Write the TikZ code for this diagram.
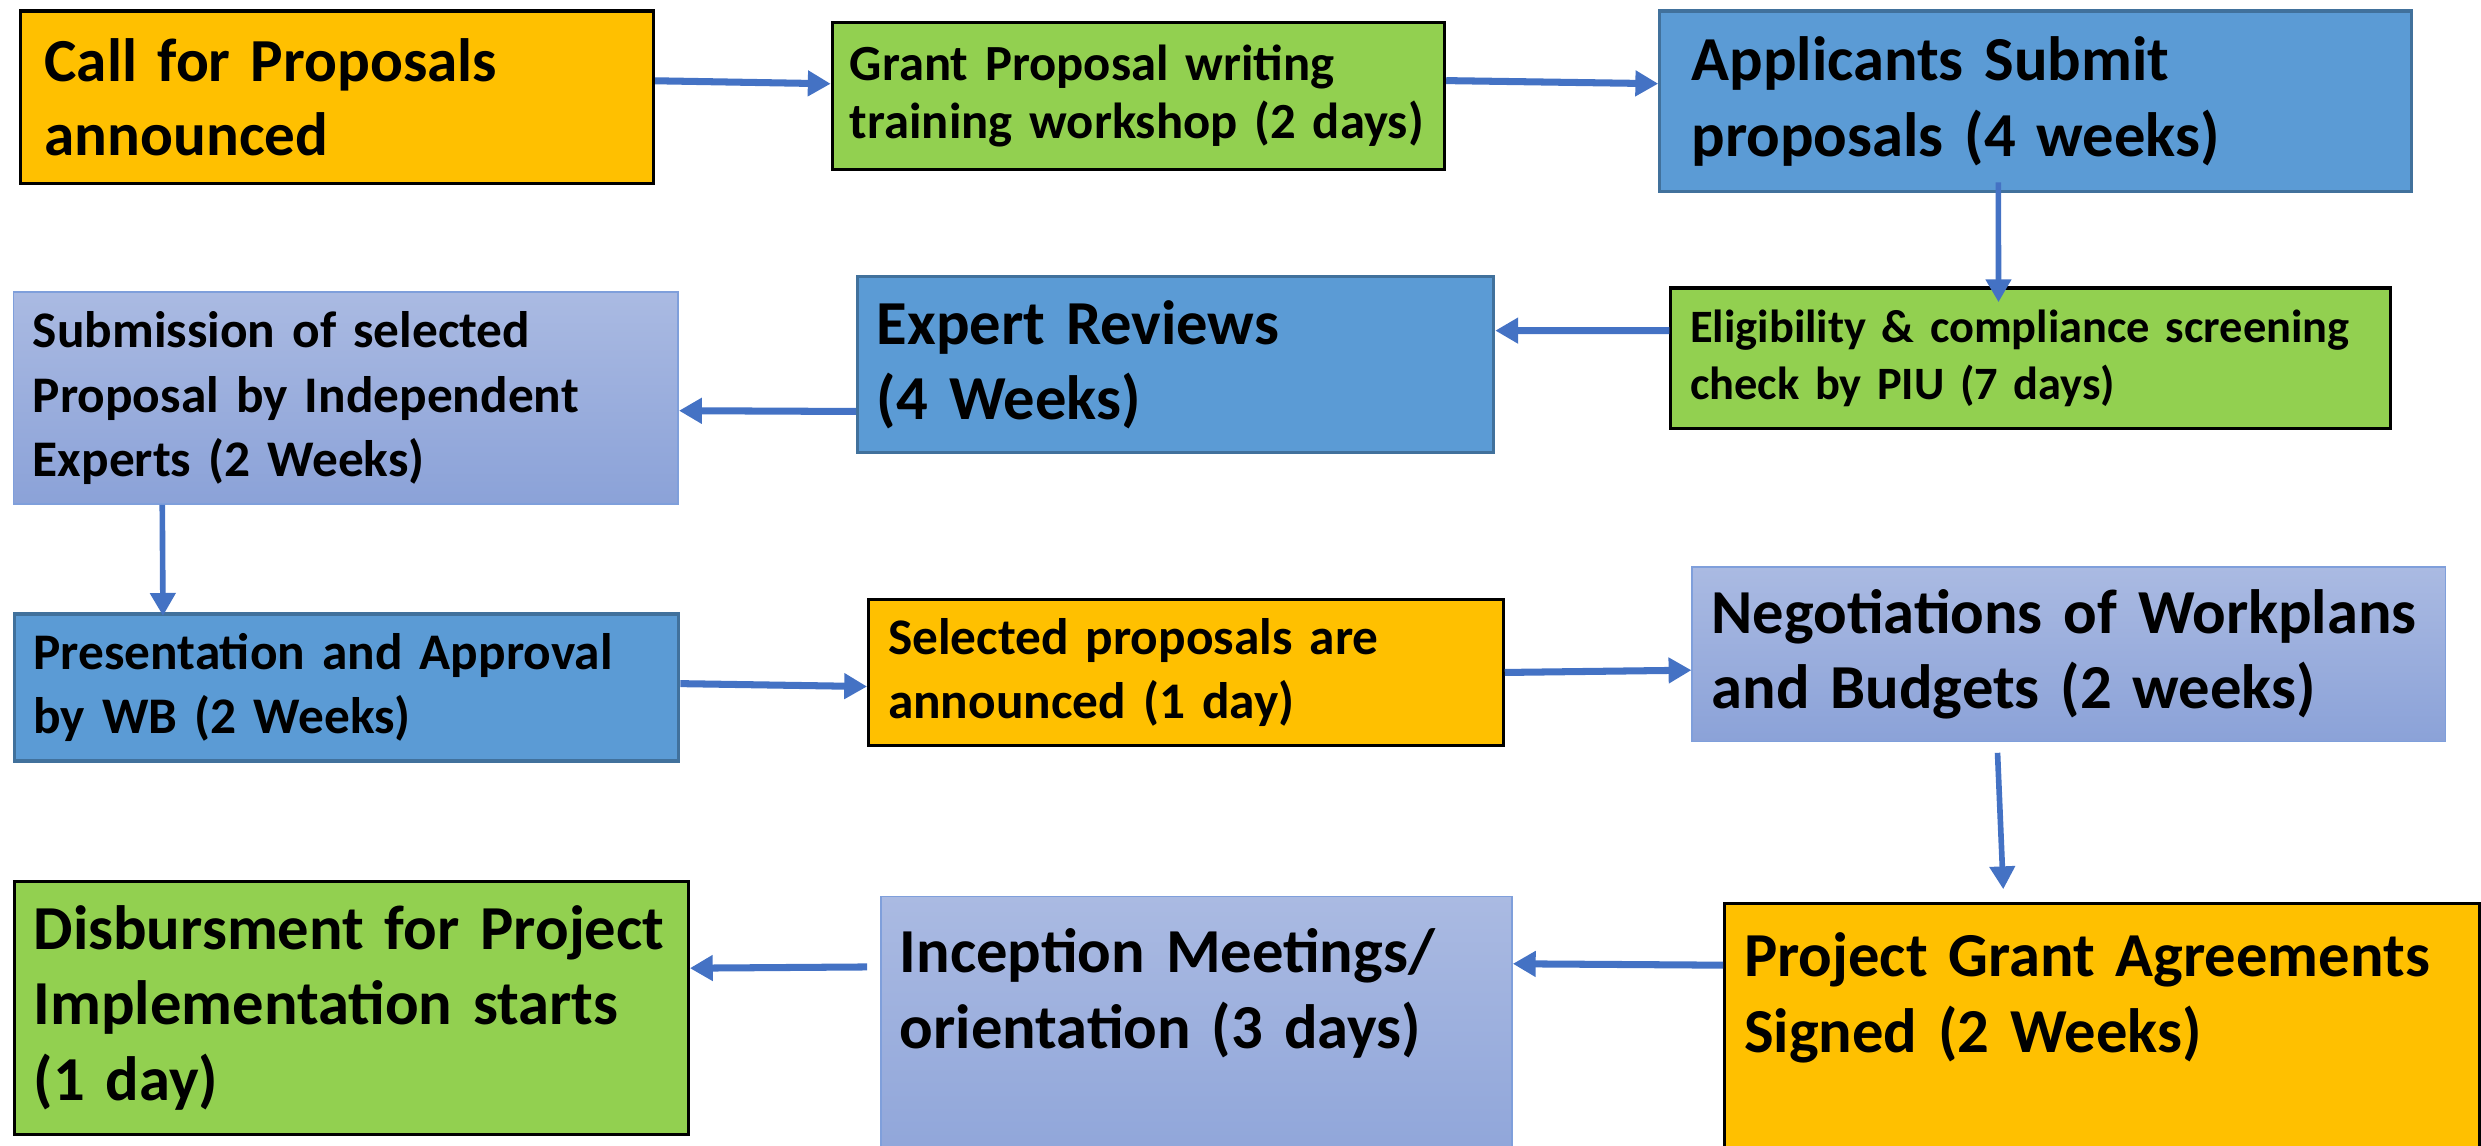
\documentclass[tikz,border=0pt]{standalone}
\usepackage{fontspec}
\setmainfont{Carlito}
\usepackage{tikz}
\usetikzlibrary{arrows.meta, positioning, calc}

\definecolor{calorange}{HTML}{FFC000}
\definecolor{stepgreen}{HTML}{92D050}
\definecolor{stepblue}{HTML}{5B9BD5}
\definecolor{stepblueline}{HTML}{41719C}
\definecolor{lavtop}{HTML}{AABAE2}
\definecolor{lavbot}{HTML}{8BA2D8}
\definecolor{lavline}{HTML}{7F9FDB}
\definecolor{flowblue}{HTML}{4472C4}

\begin{document}
\begin{tikzpicture}[x=0.45pt, y=-0.45pt, >={Triangle[length=6.5pt,width=7pt]},
        every node/.style={rectangle,anchor=north west,align=left,inner xsep=5.5pt,inner ysep=4pt,font=\bfseries}]
        % box looks and text sizes
        \tikzset{orangebox/.style={fill=calorange,draw=black,line width=0.9pt},
                 greenbox/.style={fill=stepgreen,draw=black,line width=0.9pt},
                 bluebox/.style={fill=stepblue,draw=stepblueline,line width=0.9pt},
                 lavbox/.style={top color=lavtop,bottom color=lavbot,draw=lavline,line width=0.5pt},
                 calltext/.style={font=\bfseries\fontsize{17.4}{21}\selectfont},
                 bigtext/.style={font=\bfseries\fontsize{17.8}{21.5}\selectfont},
                 midtext/.style={font=\bfseries\fontsize{14.6}{18.4}\selectfont},
                 smalltext/.style={font=\bfseries\fontsize{14.4}{16.6}\selectfont},
                 tinytext/.style={font=\bfseries\fontsize{13.2}{16.2}\selectfont},
                 flow/.style={->,flowblue,line width=2pt},
                 flowdown/.style={->,flowblue,line width=1.6pt}}
        \useasboundingbox (0,0) rectangle (1568,724);
        % first row
        \node[orangebox,calltext,inner xsep=6.8pt,text width=166.4pt,minimum height=49.05pt] (call) at (12,6) {Call for Proposals\\announced};
        \node[greenbox,smalltext,inner xsep=5pt,text width=164.15pt,minimum height=41.85pt] (grant) at (525,13) {Grant Proposal writing\\training workshop (2 days)};
        \node[bluebox,bigtext,inner xsep=9pt,text width=195.75pt,minimum height=51.3pt] (submit) at (1048,6) {Applicants Submit\\proposals (4 weeks)};
        % second row
        \node[greenbox,tinytext,text width=193.75pt,minimum height=40.05pt] (screen) at (1055,181) {Eligibility \& compliance screening\\check by PIU (7 days)};
        \node[bluebox,bigtext,text width=169.9pt,minimum height=49.95pt] (review) at (541,174) {Expert Reviews\\(4 Weeks)};
        \node[lavbox,midtext,text width=178pt,minimum height=60.3pt] (select) at (8,184) {Submission of selected\\Proposal by Independent\\Experts (2 Weeks)};
        % third row
        \node[bluebox,midtext,text width=178pt,minimum height=41.85pt] (approve) at (8,387) {Presentation and Approval\\by WB (2 Weeks)};
        \node[orangebox,midtext,text width=169.45pt,minimum height=41.4pt] (announce) at (548,378) {Selected proposals are\\announced (1 day)};
        \node[lavbox,bigtext,text width=203.2pt,minimum height=49.5pt] (negotiate) at (1069,358) {Negotiations of Workplans\\and Budgets (2 weeks)};
        % last row, two boxes run past the lower edge
        \node[orangebox,bigtext,text width=203.65pt,inner ysep=6pt,text height=14.8pt,text depth=60pt] (agree) at (1089,570) {Project Grant Agreements\\Signed (2 Weeks)};
        \node[lavbox,bigtext,text width=168.55pt,inner ysep=6pt,text height=15.7pt,text depth=60pt] (incept) at (556,566) {Inception Meetings/\\orientation (3 days)};
        \node[greenbox,bigtext,text width=180.7pt,minimum height=72pt] (disburse) at (8,556) {Disbursment for Project\\Implementation starts\\(1 day)};
        % connectors
        \draw[flow] ([yshift=4.7pt]call.east) -- ([yshift=3.4pt]grant.west);
        \draw[flow] ([yshift=4.3pt]grant.east) -- ([yshift=5pt]submit.west);
        \draw[flowdown] ([xshift=-10.6pt,yshift=3pt]submit.south) -- ([xshift=-9.2pt,yshift=-4.5pt]screen.north);
        \draw[flow] ([yshift=7.9pt]screen.west) -- ([yshift=9.7pt]review.east);
        \draw[flow] ([yshift=-13.3pt]review.west) -- ([yshift=-3.6pt]select.east);
        \draw[flowdown] ([xshift=-52.2pt]select.south) -- ([xshift=-52.2pt,yshift=-1pt]approve.north);
        \draw[flow] ([yshift=1.1pt]approve.east) -- ([yshift=-4pt]announce.west);
        \draw[flow] (announce.east) -- ([yshift=-4.5pt]negotiate.west);
        \draw[flowdown] ([xshift=-20.3pt,yshift=-3pt]negotiate.south) -- ([xshift=-28.1pt,yshift=3.6pt]agree.north);
        \draw[flow] ([yshift=-18pt]agree.north west) -- ([yshift=-19.4pt]incept.north east);
        \draw[flow] ([xshift=-3.6pt,yshift=-20.3pt]incept.north west) -- ([yshift=11.3pt]disburse.east);
    \end{tikzpicture}
\end{document}
